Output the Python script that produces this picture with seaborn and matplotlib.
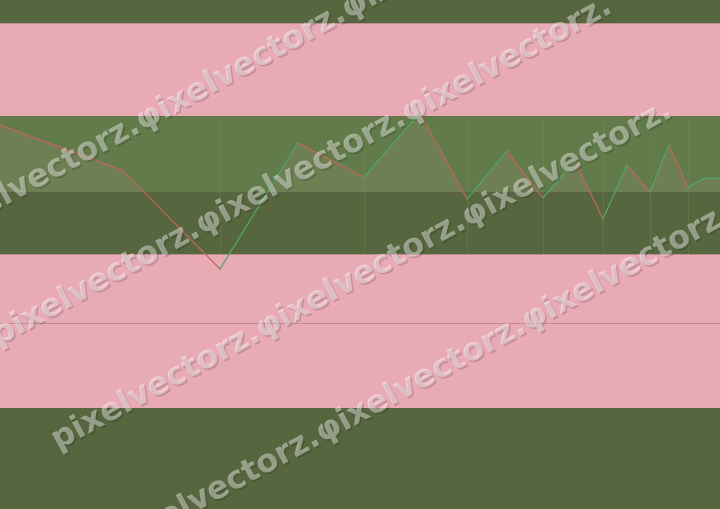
"""Gráfico de precio con bandas de zona y marca de agua."""

import matplotlib

matplotlib.use("Agg")
import matplotlib.patheffects as pe
import matplotlib.pyplot as plt
import pandas as pd
import seaborn as sns

# serie de precio (tiempo, valor)
t = [0.0, 12.2, 22.0, 29.8, 36.4, 42.0, 46.7, 50.7, 54.3, 57.5, 60.3, 62.7, 65.0, 66.9, 68.8, 70.5, 72.0]
price = [38.4, 33.9, 24.0, 36.6, 33.2, 39.6, 31.0, 35.8, 31.1, 34.8, 29.0, 34.4, 31.7, 36.4, 32.2, 33.1, 33.1]

# zonas horizontales
zone_lo = [0.0, 10.1, 25.5, 31.7, 39.3, 48.6]
zone_hi = [10.1, 25.5, 31.7, 39.3, 48.6, 50.9]
zone_kind = ["dark", "pink", "dark", "mid", "pink", "dark"]
ref_levels = [3.9, 18.6]
baseline = 31.7

watermark = "pixelvectorz.φixelvectorz.φixelvectorz."

ZONE_COLORS = {"dark": "#56673f", "mid": "#627b4a", "pink": "#e8aab5"}

sns.set_style("white")

fig = plt.figure(figsize=(7.2, 5.09), dpi=100)
ax = fig.add_axes([0, 0, 1, 1])

for lo, hi, kind in zip(zone_lo, zone_hi, zone_kind):
    ax.axhspan(lo, hi, color=ZONE_COLORS[kind], lw=0, zorder=0)
    ax.axhline(lo, color="#6e5a45", lw=0.7, alpha=0.35, zorder=1)

for lvl in ref_levels:
    ax.axhline(lvl, color="#6e5a45", lw=0.7, alpha=0.35, zorder=1)

# líneas verticales tenues en los mínimos locales
troughs = [t[i] for i in range(1, len(t) - 1) if price[i] < price[i - 1] and price[i] < price[i + 1]]
for tx in troughs:
    ax.vlines(tx, zone_lo[2], zone_hi[3], color="#7b8c5f", lw=0.6, alpha=0.4, zorder=1)

# relleno sobre la línea base
ax.fill_between(
    t, price, baseline,
    where=[p > baseline for p in price], interpolate=True,
    color="#d8a8a8", alpha=0.1, lw=0, zorder=2,
)

# segmentos coloreados por dirección
rows = []
for i in range(len(t) - 1):
    direction = "up" if price[i + 1] >= price[i] else "down"
    rows.append({"seg": i, "t": t[i], "price": price[i], "dir": direction})
    rows.append({"seg": i, "t": t[i + 1], "price": price[i + 1], "dir": direction})
seg = pd.DataFrame(rows)

sns.lineplot(
    data=seg, x="t", y="price", hue="dir", units="seg", estimator=None,
    palette={"up": "#4fa866", "down": "#c4645c"}, lw=0.9, legend=False, ax=ax, zorder=3,
)

ax.set_xlim(0, 72)
ax.set_ylim(0, 50.9)
ax.axis("off")

# marca de agua en diagonal
W, H = 720, 509
x0, y0 = -62, 242
for k in range(4):
    px, py = x0 + 60 * k, y0 + 104 * k
    fig.text(
        px / W, 1 - py / H, watermark,
        rotation=28.5, rotation_mode="anchor", ha="left", va="baseline",
        fontsize=23, fontweight="bold", color="white", alpha=0.42,
        path_effects=[
            pe.SimplePatchShadow(offset=(1.2, -1.2), shadow_rgbFace="black", alpha=0.15),
            pe.Normal(),
        ],
        zorder=5,
    )

fig.savefig("out.png", dpi=100)
plt.close(fig)
